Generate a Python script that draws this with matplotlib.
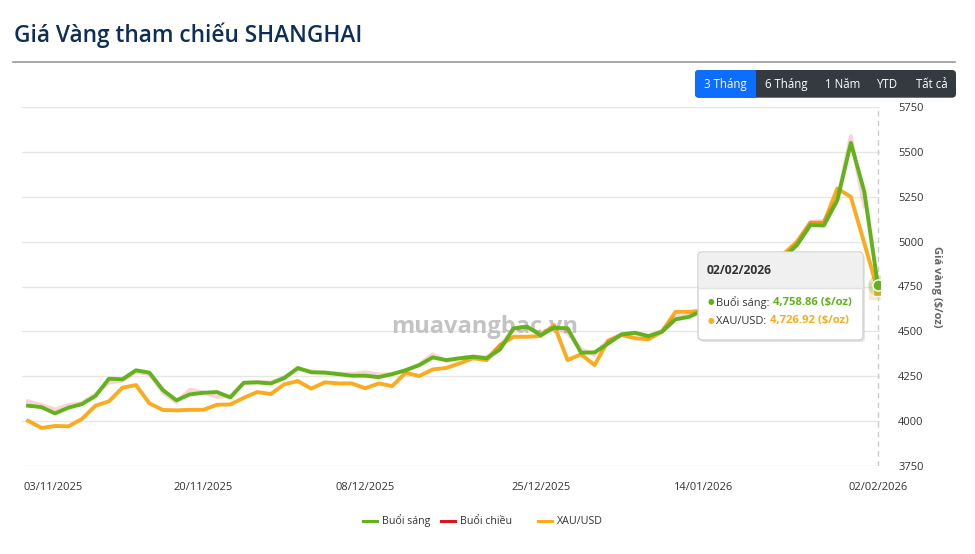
import numpy as np
import matplotlib
matplotlib.use("Agg")
import matplotlib.pyplot as plt
from matplotlib.patches import FancyBboxPatch, Rectangle
from matplotlib.lines import Line2D
from matplotlib.transforms import IdentityTransform, ScaledTranslation

plt.rcParams['font.family'] = ['Open Sans', 'DejaVu Sans']

# ---- data -------------------------------------------------------------
date_labels = ["03/11/2025", "20/11/2025", "08/12/2025",
               "25/12/2025", "14/01/2026", "02/02/2026"]
label_index = [0, 13, 25, 38, 50, 63]

buoi_sang = [4086, 4078, 4043, 4075, 4095, 4140, 4236, 4233, 4283, 4270,
             4173, 4116, 4149, 4158, 4162, 4132, 4214, 4216, 4210, 4240,
             4296, 4272, 4270, 4262, 4253, 4253, 4245, 4262, 4284, 4312,
             4355, 4340, 4350, 4359, 4350, 4400, 4517, 4526, 4479, 4520,
             4517, 4381, 4383, 4432, 4483, 4492, 4474, 4498, 4567, 4581,
             4615, 4615, 4600, 4670, 4750, 4830, 4910, 4980, 5092, 5090,
             5231, 5550, 5277, 4758.86]

buoi_chieu = [4110, 4090, 4065, 4090, 4100, 4150, 4215, 4225, 4275, 4262,
              4160, 4105, 4175, 4160, 4135, 4140, 4212, 4218, 4215, 4245,
              4290, 4278, 4272, 4265, 4262, 4272, 4260, 4262, 4280, 4315,
              4372, 4335, 4352, 4360, 4355, 4420, 4510, 4520, 4490, 4525,
              4490, 4400, 4370, 4450, 4485, 4490, 4470, 4505, 4580, 4590,
              4612, 4618, 4605, 4680, 4765, 4845, 4920, 4990, 5110, 5115,
              5240, 5587, 5195, np.nan]

xau_usd = [4002, 3962, 3973, 3971, 4012, 4086, 4110, 4186, 4201, 4099,
           4062, 4060, 4063, 4063, 4091, 4093, 4130, 4162, 4151, 4205,
           4223, 4181, 4216, 4210, 4210, 4183, 4210, 4195, 4270, 4251,
           4288, 4296, 4322, 4350, 4340, 4424, 4470, 4470, 4474, 4535,
           4340, 4372, 4312, 4446, 4480, 4462, 4456, 4498, 4609, 4609,
           4615, 4610, 4595, 4670, 4760, 4840, 4930, 4999, 5105, 5105,
           5296, 5249, 4990, 4726.92]

y_ticks = [3750, 4000, 4250, 4500, 4750, 5000, 5250, 5500, 5750]
range_buttons = ["3 Tháng", "6 Tháng", "1 Năm", "YTD", "Tất cả"]

# ---- styling ----------------------------------------------------------
W, H = 975, 554
GREEN = "#62b21c"
RED = "#e3121c"
ORANGE = "#fbab1f"
TEXT = "#333333"
NAVY = "#0c2e58"
ID = IdentityTransform()


def ypx(y):
    return H - y


fig = plt.figure(figsize=(W / 100, H / 100), dpi=100)
fig.patch.set_facecolor("white")

ax = fig.add_axes([22 / W, 1 - 466 / H, 858 / W, 359 / H])
x = np.arange(len(buoi_sang))

ax.set_xlim(-0.445, 63.16)
ax.set_ylim(3750, 5750)
for s in ax.spines.values():
    s.set_visible(False)
ax.set_yticks(y_ticks)
ax.yaxis.tick_right()
ax.tick_params(axis="y", length=0, pad=13, labelsize=8, labelcolor=TEXT)
ax.grid(axis="y", color="#e6e6e6", lw=1)
ax.set_axisbelow(True)

ax.set_xticks(label_index)
ax.set_xticklabels(date_labels)
ax.tick_params(axis="x", length=0, pad=11.5, labelsize=8, labelcolor=TEXT)
first = ax.get_xticklabels()[0]
first.set_ha("left")
first.set_transform(first.get_transform() + ScaledTranslation(-5 / 100, 0, fig.dpi_scale_trans))

ax.set_ylabel("Giá vàng ($/oz)", rotation=270, fontsize=8, fontweight="bold",
              color="#666666", labelpad=13)
ax.yaxis.set_label_position("right")

# watermark
ax.text((484.5 - 22) / 858, (466 - 327) / 359, "muavangbac.vn", transform=ax.transAxes,
        ha="center", va="center", fontsize=17, fontweight="bold",
        color="#bdbdbd", alpha=0.9, zorder=1)

# crosshair on the last point
ax.axvline(x[-1], color="#cccccc", lw=1, ls=(0, (4, 3)), zorder=1.5)

ax.plot(x, xau_usd, color=ORANGE, lw=2.8, zorder=2, solid_joinstyle="round")
ax.plot(x, buoi_chieu, color=RED, lw=2.8, alpha=0.18, zorder=2.1,
        solid_joinstyle="round")
ax.plot(x, buoi_sang, color=GREEN, lw=2.8, zorder=2.2, solid_joinstyle="round")

# hover markers with halos
ax.plot(x[-1], xau_usd[-1], "s", ms=13, color=ORANGE, alpha=0.25, mew=0, zorder=3)
ax.plot(x[-1], xau_usd[-1], "s", ms=7, color=ORANGE, mec="white", mew=1, zorder=3.1)
ax.plot(x[-1], buoi_sang[-1], "o", ms=15, color=GREEN, alpha=0.25, mew=0, zorder=3.2)
ax.plot(x[-1], buoi_sang[-1], "o", ms=8, color=GREEN, mec="white", mew=1, zorder=3.3)

# ---- title and rule ---------------------------------------------------
fig.text(14, ypx(42.5), "Giá Vàng tham chiếu SHANGHAI", transform=ID,
         fontsize=16.3, fontweight="semibold", color=NAVY, va="baseline")
fig.add_artist(Line2D([13, 955], [ypx(62), ypx(62)], transform=ID,
                      color="#9a9a9a", lw=1.2))

# ---- range selector buttons -------------------------------------------
fig.add_artist(FancyBboxPatch((695, ypx(97.7)), 261, 27.7, transform=ID,
                              boxstyle="round,pad=0,rounding_size=4",
                              fc="#343a40", ec="none"))
fig.add_artist(FancyBboxPatch((695, ypx(97.7)), 61, 27.7, transform=ID,
                              boxstyle="round,pad=0,rounding_size=4",
                              fc="#0d6efd", ec="none"))
fig.add_artist(Rectangle((745, ypx(97.7)), 11, 27.7, transform=ID,
                         fc="#0d6efd", ec="none"))
for label, cx in zip(range_buttons, [725.7, 786, 843, 888, 931.5]):
    fig.text(cx, ypx(84.5), label, transform=ID, ha="center", va="center",
             fontsize=8.3, color="white")

# ---- tooltip ----------------------------------------------------------
tx0, tx1, ty0, ty1 = 698, 863, 252, 340
fig.add_artist(FancyBboxPatch((tx0 + 2, ypx(ty1 + 2)), tx1 - tx0, ty1 - ty0,
                              transform=ID, boxstyle="round,pad=0,rounding_size=4",
                              fc="#000000", alpha=0.10, ec="none", zorder=4))
fig.add_artist(FancyBboxPatch((tx0, ypx(ty1)), tx1 - tx0, ty1 - ty0, transform=ID,
                              boxstyle="round,pad=0,rounding_size=4",
                              fc="white", ec="#d0d0d0", lw=1, zorder=5))
fig.add_artist(FancyBboxPatch((tx0 + 0.5, ypx(287.5)), tx1 - tx0 - 1, 287.5 - ty0 - 0.5,
                              transform=ID, boxstyle="round,pad=0,rounding_size=3.5",
                              fc="#f0f0f0", ec="none", zorder=5.1))
fig.add_artist(Rectangle((tx0 + 0.5, ypx(287.5)), tx1 - tx0 - 1, 6, transform=ID,
                         fc="#f0f0f0", ec="none", zorder=5.1))
fig.add_artist(Line2D([tx0 + 0.5, tx1 - 0.5], [ypx(287.5), ypx(287.5)], transform=ID,
                      color="#e2e2e2", lw=1, zorder=5.2))
fig.text(707, ypx(270.5), date_labels[-1], transform=ID, va="center",
         fontsize=8.7, fontweight="bold", color=TEXT, zorder=6)

renderer = fig.canvas.get_renderer()
rows = [("Buổi sáng: ", buoi_sang[-1], GREEN, 302.5),
        ("XAU/USD: ", xau_usd[-1], ORANGE, 321)]
for name, val, col, yy in rows:
    fig.text(710.5, ypx(yy), "●", transform=ID, va="center", ha="center",
             fontsize=5.5, color=col, zorder=6)
    t = fig.text(716.5, ypx(yy), name, transform=ID, va="center",
                 fontsize=7.9, color=TEXT, zorder=6)
    bb = t.get_window_extent(renderer=renderer)
    fig.text(bb.x1, ypx(yy), f"{val:,.2f} ($/oz)", transform=ID, va="center",
             fontsize=8.1, fontweight="bold", color=col, zorder=6)

# ---- legend -----------------------------------------------------------
legend_items = [("Buổi sáng", GREEN, 363), ("Buổi chiều", RED, 441),
                ("XAU/USD", ORANGE, 538)]
for name, col, lx in legend_items:
    fig.add_artist(Line2D([lx, lx + 14], [ypx(521), ypx(521)], transform=ID,
                          color=col, lw=2.2))
    fig.text(lx + 18.5, ypx(521), name, transform=ID, va="center",
             fontsize=7.7, color=TEXT)

fig.savefig("out.png", dpi=100)
